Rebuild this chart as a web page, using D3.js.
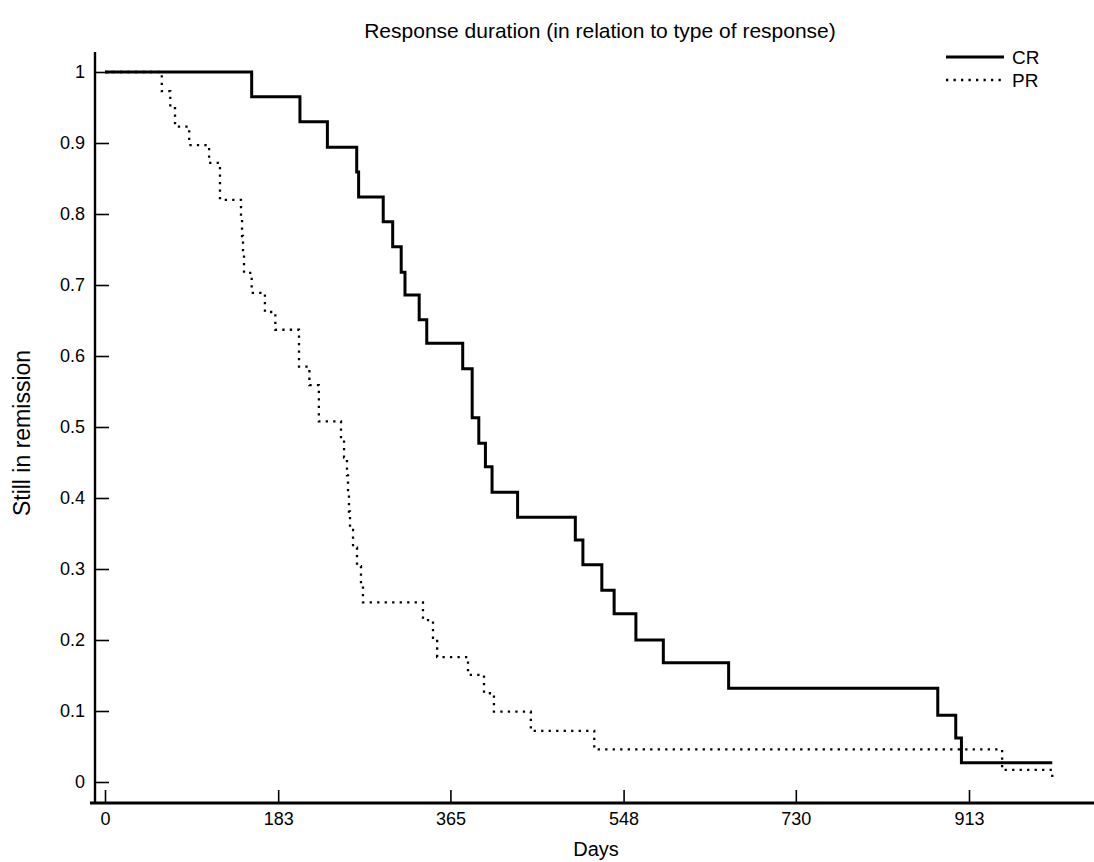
<!DOCTYPE html>
<html>
<head>
<meta charset="utf-8">
<script src="https://cdn.jsdelivr.net/npm/d3@7"></script>
<style>
  html, body { margin: 0; padding: 0; background: #fff; }
  svg { display: block; font-family: "Liberation Sans", Arial, Helvetica, sans-serif; }
</style>
</head>
<body>
<svg id="chart" width="1094" height="862"></svg>
<script>
// ---- Data ----
const title = "Response duration (in relation to type of response)";
const xLabel = "Days";
const yLabel = "Still in remission";
const xTicks = [0, 183, 365, 548, 730, 913];
const yTicks = [0, 0.1, 0.2, 0.3, 0.4, 0.5, 0.6, 0.7, 0.8, 0.9, 1];
const seriesNames = ["CR", "PR"];

// CR: complete response — step times (days) and proportion still in remission after each step
const crDays = [0, 155, 206, 235, 266, 268, 294, 304, 313, 317, 332, 340, 378, 388, 395, 402, 409, 436, 497, 505, 525, 538, 561, 590, 659, 880, 899, 905, 1001];
const crValues = [1, 0.965, 0.930, 0.894, 0.859, 0.824, 0.789, 0.754, 0.718, 0.686, 0.651, 0.618, 0.582, 0.513, 0.477, 0.444, 0.408, 0.373, 0.341, 0.306, 0.270, 0.237, 0.200, 0.168, 0.132, 0.094, 0.062, 0.027, 0.027];

// PR: partial response
const prDays = [0, 60, 69, 74, 89, 110, 121.5, 143.7, 144.8, 145.8, 146.9, 155, 169, 180, 205, 216, 226, 249.4, 252.6, 255.7, 256.8, 257.8, 258.9, 262.1, 266.3, 270.5, 272.6, 336, 346.6, 351, 383.6, 400.5, 411, 450, 517, 948, 1001];
const prValues = [1, 0.973, 0.949, 0.923, 0.897, 0.872, 0.820, 0.794, 0.769, 0.743, 0.717, 0.689, 0.662, 0.637, 0.585, 0.559, 0.508, 0.483, 0.457, 0.432, 0.406, 0.381, 0.355, 0.330, 0.304, 0.279, 0.253, 0.228, 0.203, 0.176, 0.151, 0.125, 0.099, 0.072, 0.046, 0.017, 0.0];

// ---- Layout ----
const svg = d3.select("#chart");
const x = d3.scaleLinear().domain([0, 913]).range([105, 969]);
const y = d3.scaleLinear().domain([0, 1]).range([782, 72]);
const axisY = 803;   // x-axis baseline
const axisX = 95;    // y-axis position

// Title
svg.append("text")
  .attr("x", 600).attr("y", 38)
  .attr("text-anchor", "middle")
  .attr("font-size", 21)
  .text(title);

// Y axis
const yAxis = d3.axisLeft(y)
  .tickValues(yTicks)
  .tickSizeInner(-14)
  .tickSizeOuter(0)
  .tickPadding(10)
  .tickFormat(d => d === 0 ? "0" : d === 1 ? "1" : d3.format(".1f")(d));
const gy = svg.append("g").attr("transform", `translate(${axisX},0)`).call(yAxis);
gy.select(".domain").remove();
gy.selectAll(".tick line").attr("stroke", "#000").attr("stroke-width", 1.6);
gy.selectAll(".tick text").attr("font-size", 18).attr("fill", "#000")
  .attr("font-family", "Liberation Sans, Arial, sans-serif");
svg.append("line")
  .attr("x1", axisX).attr("x2", axisX)
  .attr("y1", 52).attr("y2", axisY + 1)
  .attr("stroke", "#000").attr("stroke-width", 2.4);

// X axis
const xAxis = d3.axisBottom(x)
  .tickValues(xTicks)
  .tickSizeInner(-13)
  .tickSizeOuter(0)
  .tickPadding(9)
  .tickFormat(d3.format("d"));
const gx = svg.append("g").attr("transform", `translate(0,${axisY})`).call(xAxis);
gx.select(".domain").remove();
gx.selectAll(".tick line").attr("stroke", "#000").attr("stroke-width", 1.6);
gx.selectAll(".tick text").attr("font-size", 18).attr("fill", "#000")
  .attr("font-family", "Liberation Sans, Arial, sans-serif");
svg.append("line")
  .attr("x1", 90).attr("x2", 1094)
  .attr("y1", axisY).attr("y2", axisY)
  .attr("stroke", "#000").attr("stroke-width", 3);

// Axis labels
svg.append("text")
  .attr("x", 596).attr("y", 856)
  .attr("text-anchor", "middle")
  .attr("font-size", 20)
  .text(xLabel);
svg.append("text")
  .attr("transform", "translate(30,433) rotate(-90)")
  .attr("text-anchor", "middle")
  .attr("font-size", 23)
  .text(yLabel);

// Step curves
const line = d3.line()
  .x(d => x(d[0]))
  .y(d => y(d[1]))
  .curve(d3.curveStepAfter);

const crData = crDays.map((d, i) => [d, crValues[i]]);
const prData = prDays.map((d, i) => [d, prValues[i]]);

svg.append("path")
  .datum(prData)
  .attr("d", line)
  .attr("fill", "none")
  .attr("stroke", "#000")
  .attr("stroke-width", 2.3)
  .attr("stroke-dasharray", "2.3 5.2");

svg.append("path")
  .datum(crData)
  .attr("d", line)
  .attr("fill", "none")
  .attr("stroke", "#000")
  .attr("stroke-width", 3)
  .attr("stroke-linejoin", "miter");

// Legend
const legendY = [57, 80];
const legend = svg.append("g");
legend.append("line")
  .attr("x1", 946).attr("x2", 1004)
  .attr("y1", legendY[0]).attr("y2", legendY[0])
  .attr("stroke", "#000").attr("stroke-width", 3);
legend.append("line")
  .attr("x1", 946).attr("x2", 1004)
  .attr("y1", legendY[1]).attr("y2", legendY[1])
  .attr("stroke", "#000").attr("stroke-width", 2.3)
  .attr("stroke-dasharray", "2.3 5.2");
legend.selectAll("text.lg")
  .data(seriesNames)
  .enter().append("text")
  .attr("class", "lg")
  .attr("x", 1012)
  .attr("y", (d, i) => legendY[i] + 6.5)
  .attr("font-size", 19)
  .text(d => d);
</script>
</body>
</html>
